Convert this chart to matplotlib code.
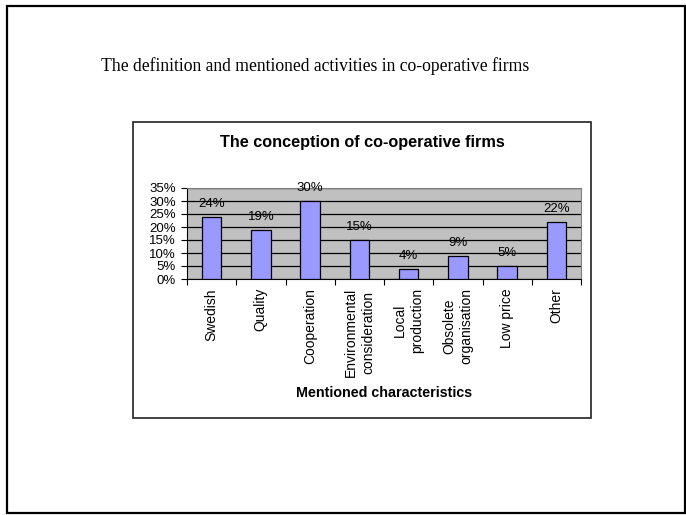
import matplotlib
matplotlib.use("Agg")
import matplotlib.pyplot as plt
from matplotlib.patches import Rectangle
from matplotlib.ticker import FixedLocator, PercentFormatter
import numpy as np

# Survey data
categories = ["Swedish", "Quality", "Cooperation", "Environmental\nconsideration",
              "Local\nproduction", "Obsolete\norganisation", "Low price", "Other"]
shares = [24, 19, 30, 15, 4, 9, 5, 22]
y_ticks = [0, 5, 10, 15, 20, 25, 30, 35]

page_title = "The definition and mentioned activities in co-operative firms"
chart_title = "The conception of co-operative firms"
x_title = "Mentioned characteristics"

W, H = 686, 515
fig = plt.figure(figsize=(W / 100, H / 100), dpi=100)


def fx(px):
    return px / W


def fy(py):
    return 1 - py / H


# Page frame
fig.patches.append(Rectangle((fx(7), fy(513)), fx(685) - fx(7), fy(6) - fy(513),
                             transform=fig.transFigure, fill=False,
                             edgecolor="black", linewidth=1.6))
fig.text(fx(315), fy(66), page_title, ha="center", va="center",
         family="Liberation Serif", fontsize=12.7)

# Chart frame
box_l, box_r, box_t, box_b = 133, 591, 122, 418
fig.patches.append(Rectangle((fx(box_l), fy(box_b)), fx(box_r) - fx(box_l),
                             fy(box_t) - fy(box_b), transform=fig.transFigure,
                             fill=False, edgecolor="#222222", linewidth=1.2))
fig.text(fx((box_l + box_r) / 2), fy(143), chart_title, ha="center", va="center",
         family="Liberation Sans", fontsize=11.7, fontweight="bold")

# Plot area
pl, pr, pt, pb = 187, 581, 188, 279
ax = fig.add_axes([fx(pl), fy(pb), fx(pr) - fx(pl), fy(pt) - fy(pb)])
ax.set_facecolor("#C0C0C0")
x = np.arange(len(categories))
ax.bar(x, shares, width=0.4, color="#9999FF", edgecolor="black", linewidth=0.9,
       zorder=3)
ax.set_xlim(-0.5, len(categories) - 0.5)
ax.set_ylim(0, 35)

for xi, v in zip(x, shares):
    ax.annotate(f"{v}%", (xi, v), xytext=(0, 5), textcoords="offset points",
                ha="center", va="bottom", family="Liberation Sans", fontsize=9.5,
                zorder=4, annotation_clip=False)

ax.yaxis.set_major_locator(FixedLocator(y_ticks))
ax.yaxis.set_major_formatter(PercentFormatter(decimals=0))
ax.grid(axis="y", color="black", linewidth=0.9, zorder=1)
ax.set_axisbelow(True)

ax.set_xticks(np.arange(len(categories) + 1) - 0.5)
ax.set_xticklabels([])
ax.set_xticks(x, minor=True)
ax.set_xticklabels(categories, minor=True, rotation=90, ha="center", va="top",
                   family="Liberation Sans", fontsize=10, linespacing=1.3)
ax.tick_params(axis="x", which="minor", length=0, pad=6.5)
ax.tick_params(axis="x", which="major", length=4, width=0.8, direction="out")
ax.tick_params(axis="y", length=4, width=0.8, direction="out", pad=4,
               labelsize=9.5)
for lab in ax.get_yticklabels():
    lab.set_family("Liberation Sans")

for side in ["top", "right"]:
    ax.spines[side].set_color("#808080")
    ax.spines[side].set_linewidth(0.8)
ax.spines["left"].set_linewidth(0.8)
ax.spines["bottom"].set_linewidth(0.8)

fig.text(fx((pl + pr) / 2), fy(393), x_title, ha="center", va="center",
         family="Liberation Sans", fontsize=10.3, fontweight="bold")

fig.savefig("out.png", dpi=100)
